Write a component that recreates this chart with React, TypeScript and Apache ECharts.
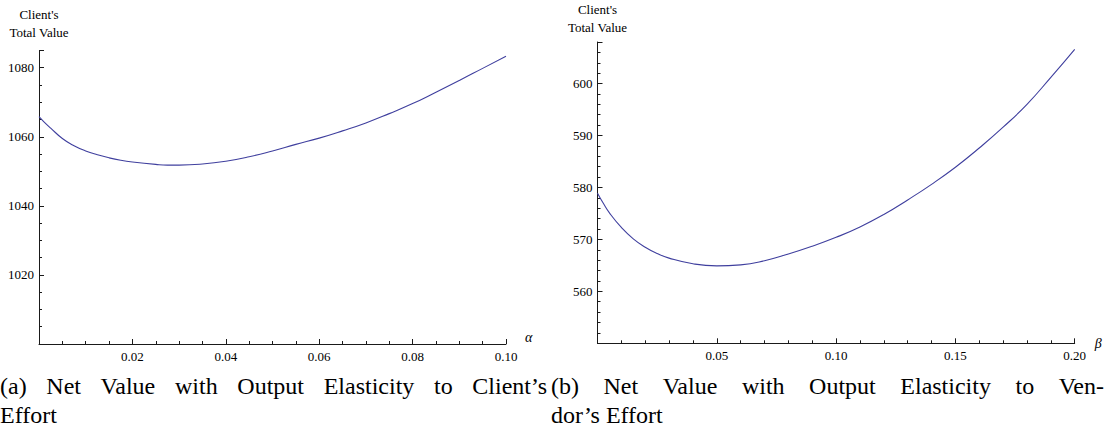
import React, { useEffect, useRef } from "react";
import * as echarts from "echarts";

// ---- Data ----
const alphaValues = [0, 0.001, 0.0025, 0.005, 0.0075, 0.01, 0.0125, 0.015, 0.0175, 0.02, 0.025, 0.0275, 0.03, 0.035, 0.04, 0.045, 0.05, 0.055, 0.06, 0.065, 0.07, 0.075, 0.08, 0.085, 0.09, 0.095, 0.1];
const clientValueByAlpha = [1065.8, 1064.4, 1062.5, 1059.5, 1057.4, 1055.9, 1054.8, 1053.9, 1053.2, 1052.7, 1052.0, 1051.8, 1051.8, 1052.1, 1052.9, 1054.2, 1055.9, 1057.8, 1059.6, 1061.7, 1064.0, 1066.7, 1069.6, 1072.9, 1076.3, 1079.8, 1083.3];

const betaValues = [0, 0.0025, 0.005, 0.01, 0.015, 0.02, 0.025, 0.03, 0.04, 0.05, 0.06, 0.07, 0.08, 0.09, 0.1, 0.11, 0.12, 0.13, 0.14, 0.15, 0.16, 0.17, 0.18, 0.19, 0.2];
const clientValueByBeta = [578.9, 576.9, 575.1, 572.3, 570.1, 568.5, 567.3, 566.4, 565.3, 564.9, 565.1, 565.9, 567.2, 568.7, 570.4, 572.4, 574.8, 577.6, 580.6, 583.9, 587.6, 591.6, 596.0, 601.2, 606.6];

// Axis ranges and tick steps
const leftX = { min: 0, max: 0.1, step: 0.02, minorSplit: 4 };
const leftY = { min: 1000, max: 1085, step: 20, minorSplit: 4 };
const rightX = { min: 0, max: 0.2, step: 0.05, minorSplit: 5 };
const rightY = { min: 550, max: 608, step: 10, minorSplit: 5 };

const yAxisTitle = "Client's\nTotal Value";
const leftXName = "α";
const rightXName = "β";
const captionA1 = "(a) Net Value with Output Elasticity to Client’s";
const captionA2 = "Effort";
const captionB1 = "(b) Net Value with Output Elasticity to Ven-";
const captionB2 = "dor’s Effort";

// ---- Styling / layout ----
const FONT = "Liberation Serif";
const AXIS_COLOR = "#1a1a1a";
const CURVE_COLOR = "#3f3f9e";

const LEFT_FRAME = { x0: 39, y0: 344, kx: 4670, ky: 3.454, yBase: 1000 };
const RIGHT_FRAME = { x0: 597.5, y0: 343.3, kx: 2386, ky: 5.216, yBase: 550 };

function gridFor(f: any, r: any, ry: any) {
  return {
    left: f.x0,
    width: (r.max - r.min) * f.kx,
    top: f.y0 - (ry.max - f.yBase) * f.ky,
    height: (ry.max - ry.min) * f.ky,
  };
}

function xAxisFor(grid: number, r: any, name: string, gap: number, va: string) {
  return {
    type: "value", gridIndex: grid, min: r.min, max: r.max, interval: r.step,
    name, nameLocation: "end", nameGap: gap,
    nameTextStyle: { fontFamily: FONT, fontSize: 14, fontStyle: "italic", color: "#000", verticalAlign: va },
    axisLine: { show: true, lineStyle: { color: AXIS_COLOR, width: 1 } },
    axisTick: { show: true, inside: true, length: 5, lineStyle: { color: AXIS_COLOR, width: 1 } },
    minorTick: { show: true, splitNumber: r.minorSplit, length: 3, lineStyle: { color: AXIS_COLOR, width: 1 } },
    axisLabel: { show: true, showMinLabel: false, margin: 6, formatter: (v: number) => v.toFixed(2), fontFamily: FONT, fontSize: 13, color: "#000" },
    splitLine: { show: false },
  };
}

function yAxisFor(grid: number, r: any, gap: number) {
  return {
    type: "value", gridIndex: grid, min: r.min, max: r.max, interval: r.step,
    name: yAxisTitle, nameLocation: "end", nameGap: gap,
    nameTextStyle: { fontFamily: FONT, fontSize: 13, lineHeight: 18, color: "#000", align: "center" },
    axisLine: { show: true, lineStyle: { color: AXIS_COLOR, width: 1 } },
    axisTick: { show: true, inside: true, length: 5, lineStyle: { color: AXIS_COLOR, width: 1 } },
    minorTick: { show: true, splitNumber: r.minorSplit, length: 3, lineStyle: { color: AXIS_COLOR, width: 1 } },
    axisLabel: { show: true, showMinLabel: false, showMaxLabel: false, margin: 5, formatter: (v: number) => String(v), fontFamily: FONT, fontSize: 13, color: "#000" },
    splitLine: { show: false },
  };
}

// caption lines as title components, words spread to the full line width
function buildCaptionTitles() {
  const size = 24;
  const ctx = document.createElement("canvas").getContext("2d") as CanvasRenderingContext2D;
  ctx.font = `${size}px "${FONT}"`;
  const textStyle = { fontFamily: FONT, fontSize: size, fontWeight: "normal", color: "#000", lineHeight: size };
  const word = (text: string, x: number, centerY: number) => ({
    text, left: x, top: centerY - size / 2, padding: 0, textStyle,
  });
  const justified = (text: string, x0: number, x1: number, centerY: number) => {
    const words = text.split(" ");
    const widths = words.map((w) => ctx.measureText(w).width);
    const total = widths.reduce((a, b) => a + b, 0);
    const gap = (x1 - x0 - total) / (words.length - 1);
    let x = x0;
    return words.map((w, i) => {
      const t = word(w, Math.round(x * 10) / 10, centerY);
      x += widths[i] + gap;
      return t;
    });
  };
  const y1 = 386, y2 = 415;
  return [
    ...justified(captionA1, 0, 547, y1),
    word(captionA2, 0, y2),
    ...justified(captionB1, 551, 1104, y1),
    word(captionB2, 551, y2),
  ];
}

export default function App() {
  const ref = useRef<HTMLDivElement>(null);
  useEffect(() => {
    if (!ref.current) return;
    const chart = echarts.init(ref.current, undefined, { renderer: "svg" });
    chart.setOption({
      animation: false,
      title: buildCaptionTitles(),
      grid: [gridFor(LEFT_FRAME, leftX, leftY), gridFor(RIGHT_FRAME, rightX, rightY)],
      xAxis: [
        xAxisFor(0, leftX, leftXName, 19, "bottom"),
        xAxisFor(1, rightX, rightXName, 20, "middle"),
      ],
      yAxis: [
        yAxisFor(0, leftY, 9),
        yAxisFor(1, rightY, 6),
      ],
      series: [
        {
          type: "line", xAxisIndex: 0, yAxisIndex: 0, showSymbol: false, smooth: 0.5,
          lineStyle: { color: CURVE_COLOR, width: 1.1 },
          data: alphaValues.map((a, i) => [a, clientValueByAlpha[i]]),
        },
        {
          type: "line", xAxisIndex: 1, yAxisIndex: 1, showSymbol: false, smooth: 0.5,
          lineStyle: { color: CURVE_COLOR, width: 1.1 },
          data: betaValues.map((b, i) => [b, clientValueByBeta[i]]),
        },
      ],
    });
    return () => chart.dispose();
  }, []);
  return <div ref={ref} style={{ position: "absolute", left: 0, top: 0, width: 1107, height: 442, background: "#fff" }} />;
}
